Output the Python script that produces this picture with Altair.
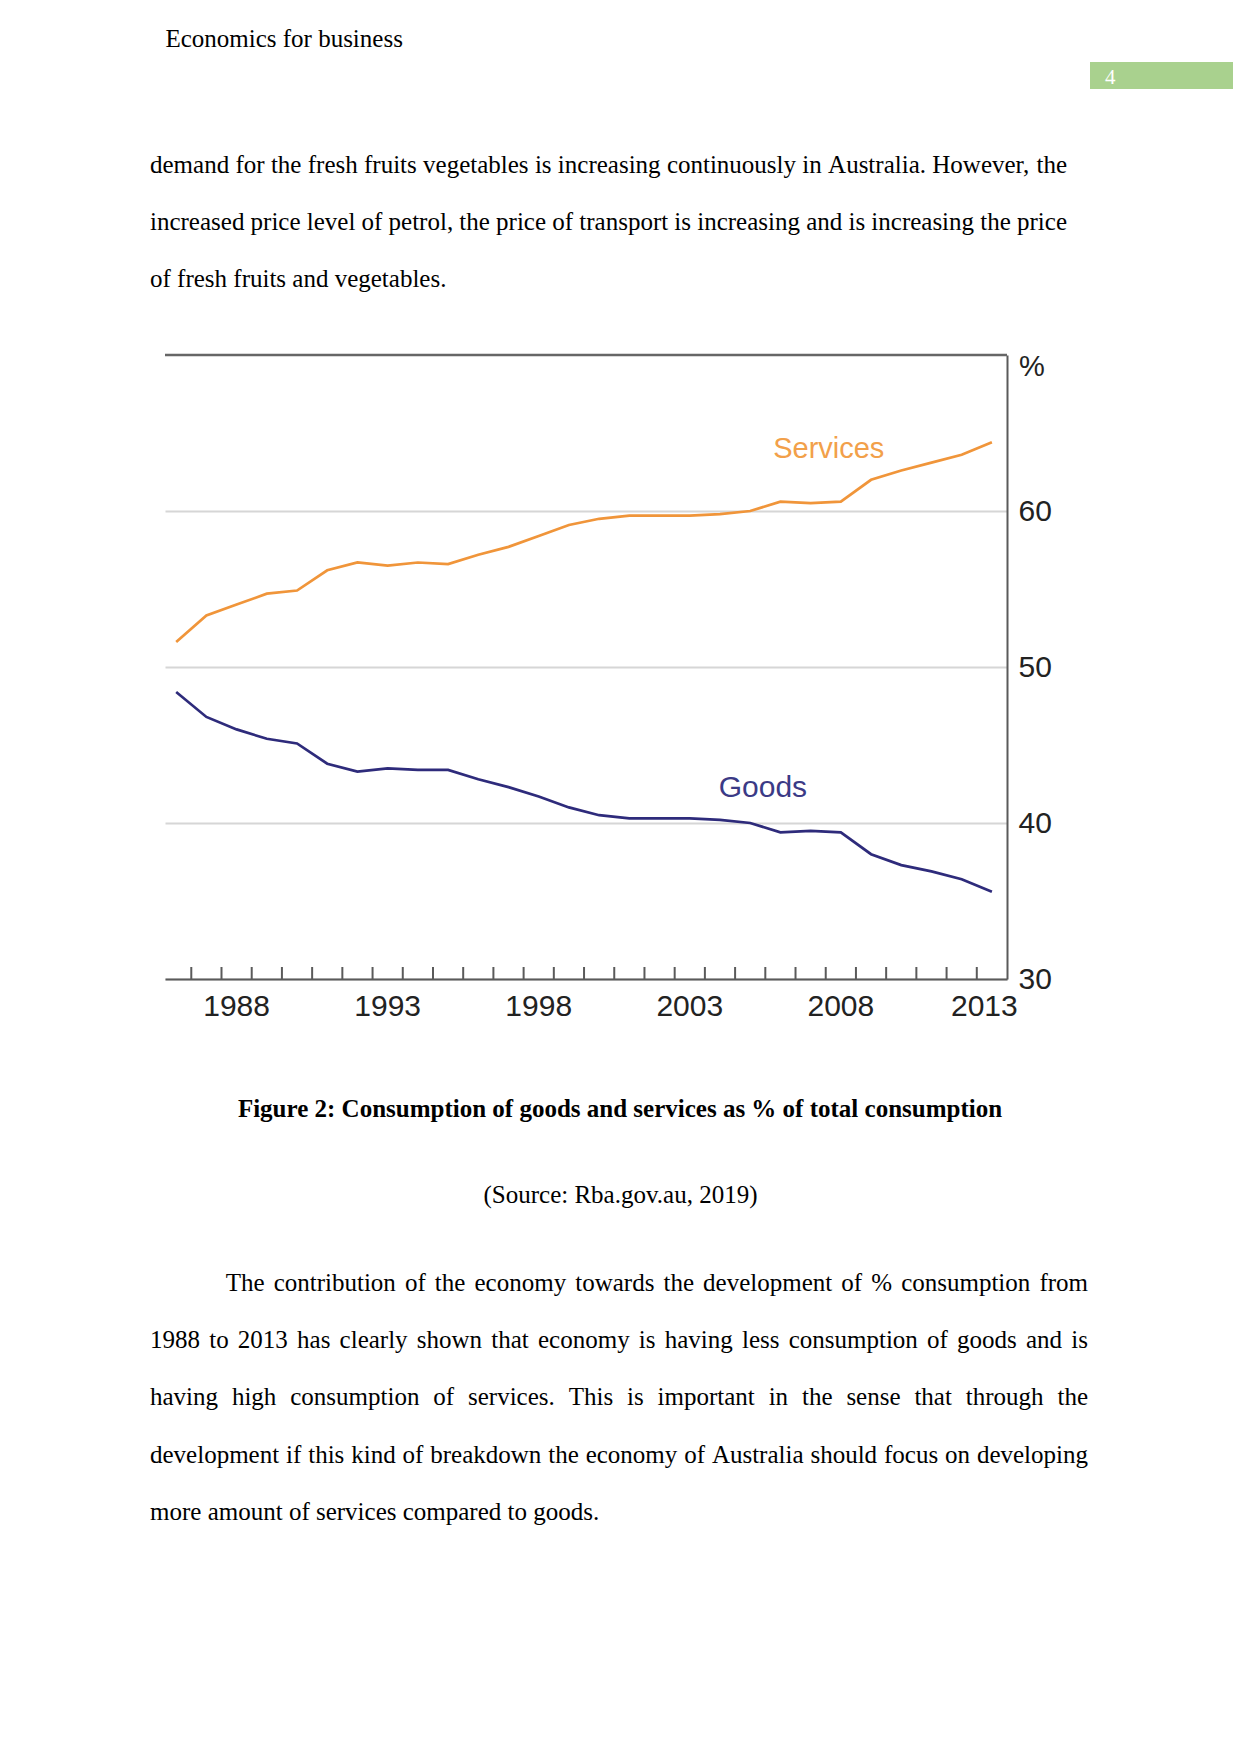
import altair as alt
import pandas as pd

# ---------------- data ----------------
years = list(range(1986, 2014))
services = [51.6, 53.3, 54.0, 54.7, 54.9, 56.2, 56.7, 56.5, 56.7, 56.6, 57.2, 57.7, 58.4, 59.1,
            59.5, 59.7, 59.7, 59.7, 59.8, 60.0, 60.6, 60.5, 60.6, 62.0, 62.6, 63.1, 63.6, 64.4]
goods = [48.4, 46.8, 46.0, 45.4, 45.1, 43.8, 43.3, 43.5, 43.4, 43.4, 42.8, 42.3, 41.7, 41.0,
         40.5, 40.3, 40.3, 40.3, 40.2, 40.0, 39.4, 39.5, 39.4, 38.0, 37.3, 36.9, 36.4, 35.6]
tick_years = list(range(1987, 2014))
label_years = [1988, 1993, 1998, 2003, 2008, 2013]
y_ticks = [30, 40, 50, 60]

header_text = "Economics for business"
page_number = "4"
para1 = [
    "demand for the fresh fruits vegetables is increasing continuously in Australia. However, the",
    "increased price level of petrol, the price of transport is increasing and is increasing the price",
    "of fresh fruits and vegetables.",
]
caption = "Figure 2: Consumption of goods and services as % of total consumption"
source = "(Source: Rba.gov.au, 2019)"
para2 = [
    "The contribution of the economy towards the development of % consumption from",
    "1988 to 2013 has clearly shown that economy is having less consumption of goods and is",
    "having high consumption of services. This is important in the sense that through the",
    "development if this kind of breakdown the economy of Australia should focus on developing",
    "more amount of services compared to goods.",
]

# ---------------- layout constants (page pixels) ----------------
PLOT_X, PLOT_Y = 165, 355
W, H = 842, 624
FS = 25
SVG_W, SVG_H = 1225, 1690

TIMES = {
    " ": 250, "!": 333, "%": 833, "(": 333, ")": 333, ",": 250, "-": 333, ".": 250, ":": 278,
    "0": 500, "1": 500, "2": 500, "3": 500, "4": 500, "5": 500, "6": 500, "7": 500, "8": 500, "9": 500,
    "A": 722, "B": 667, "C": 667, "D": 722, "E": 611, "F": 556, "G": 722, "H": 722, "I": 333,
    "J": 389, "K": 722, "L": 611, "M": 889, "N": 722, "O": 722, "P": 556, "Q": 722, "R": 667,
    "S": 556, "T": 611, "U": 722, "V": 722, "W": 944, "X": 722, "Y": 722, "Z": 611,
    "a": 444, "b": 500, "c": 444, "d": 500, "e": 444, "f": 333, "g": 500, "h": 500, "i": 278,
    "j": 278, "k": 500, "l": 278, "m": 778, "n": 500, "o": 500, "p": 500, "q": 500, "r": 333,
    "s": 389, "t": 278, "u": 500, "v": 500, "w": 722, "x": 500, "y": 500, "z": 444,
}


def tw(s, size):
    return sum(TIMES.get(c, 500) for c in s) / 1000.0 * size


def layout(lines, x_first, x_rest, right, base0, step, size):
    rows = []
    for i, line in enumerate(lines):
        words = line.split(" ")
        x0 = x_first if i == 0 else x_rest
        ww = [tw(w, size) for w in words]
        if i == len(lines) - 1 or len(words) < 2:
            gap = tw(" ", size)
        else:
            gap = (right - x0 - sum(ww)) / (len(words) - 1)
        x = x0
        for w, wd in zip(words, ww):
            rows.append({"word": w, "px": x - PLOT_X, "py": base0 + i * step - PLOT_Y})
            x += wd + gap
    return rows


words_df = pd.DataFrame(
    layout(para1, 150, 150, 1067, 172.5, 57.2, FS)
    + layout(para2, 225.7, 150, 1088, 1290.7, 57.3, FS)
)

# ---------------- chart ----------------
df = pd.DataFrame({
    "year": years * 2,
    "value": services + goods,
    "series": ["Services"] * len(years) + ["Goods"] * len(years),
})

xscale = alt.Scale(domain=[1986.13, 2014.0], nice=False, zero=False)
yscale = alt.Scale(domain=[30, 70], nice=False, zero=False)

lines = alt.Chart(df).transform_calculate(mid="datum.year + 0.5").mark_line(
    strokeWidth=2.7
).encode(
    x=alt.X("mid:Q", scale=xscale,
            axis=alt.Axis(domain=True, domainColor="#5a5a5a", domainWidth=2, ticks=False,
                          labels=False, grid=False, title=None, zindex=1)),
    y=alt.Y("value:Q", scale=yscale,
            axis=alt.Axis(orient="right", values=y_ticks, grid=True, gridColor="#d6d6d6",
                          gridWidth=2, domainColor="#5a5a5a", domainWidth=2, ticks=False,
                          tickSize=0, labelPadding=11, labelFontSize=30,
                          labelFont="Liberation Sans", labelColor="#222222", title=None)),
    color=alt.Color("series:N", scale=alt.Scale(domain=["Services", "Goods"],
                                                range=["#F0953A", "#2E2B7B"]), legend=None),
    detail="series:N",
)

top_rule = alt.Chart(pd.DataFrame({"v": [70]})).mark_rule(color="#666666", strokeWidth=2.5).encode(
    y=alt.Y("v:Q", scale=yscale)
)

ticks = alt.Chart(pd.DataFrame({"year": tick_years})).mark_rule(color="#5a5a5a", strokeWidth=2).encode(
    x=alt.X("year:Q", scale=xscale),
    y=alt.value(H),
    y2=alt.value(H - 12),
)

xlabels = alt.Chart(pd.DataFrame({"year": label_years})).transform_calculate(
    pos="min(datum.year + 0.5, 2013.25)", lab="toString(datum.year)"
).mark_text(font="Liberation Sans", fontSize=30, color="#222222", baseline="middle").encode(
    x=alt.X("pos:Q", scale=xscale),
    y=alt.value(652),
    text="lab:N",
)

pct = alt.Chart(pd.DataFrame({"t": ["%"]})).mark_text(
    font="Liberation Sans", fontSize=29, color="#222222", align="left", baseline="middle"
).encode(x=alt.value(1019 - PLOT_X), y=alt.value(366.5 - PLOT_Y), text="t:N")

serv_lab = alt.Chart(pd.DataFrame({"t": ["Services"]})).mark_text(
    font="Liberation Sans", fontSize=29, color="#F2A04A", align="center", baseline="alphabetic"
).encode(x=alt.datum(2008.1, scale=xscale), y=alt.datum(63.42, scale=yscale), text="t:N")

goods_lab = alt.Chart(pd.DataFrame({"t": ["Goods"]})).mark_text(
    font="Liberation Sans", fontSize=30, color="#3B3A86", align="center", baseline="alphabetic"
).encode(x=alt.datum(2005.92, scale=xscale), y=alt.datum(41.69, scale=yscale), text="t:N")

# ---------------- page text ----------------
body = alt.Chart(words_df).mark_text(
    font="Liberation Serif", fontSize=FS, color="#000000", align="left", baseline="alphabetic"
).encode(
    x=alt.X("px:Q", scale=None, axis=None),
    y=alt.Y("py:Q", scale=None, axis=None),
    text="word:N",
)


def single_text(txt, x, y, align="left", bold=False, size=FS, color="#000000"):
    return alt.Chart(pd.DataFrame({"t": [txt]})).mark_text(
        font="Liberation Serif", fontSize=size, color=color, align=align,
        baseline="alphabetic", fontWeight="bold" if bold else "normal"
    ).encode(x=alt.value(x - PLOT_X), y=alt.value(y - PLOT_Y), text="t:N")


header = single_text(header_text, 165.4, 46.7)
cap = single_text(caption, 620, 1117.3, align="center", bold=True)
src = single_text(source, 620.5, 1203.3, align="center")

box = alt.Chart(pd.DataFrame({"t": [page_number]})).mark_rect(color="#A9D18E").encode(
    x=alt.value(1090 - PLOT_X), x2=alt.value(1240 - PLOT_X),
    y=alt.value(62 - PLOT_Y), y2=alt.value(89 - PLOT_Y),
)
pnum = single_text(page_number, 1105, 84, size=21, color="#FFFFFF")

chart = alt.layer(
    top_rule, lines, ticks, xlabels, pct, serv_lab, goods_lab,
    body, header, cap, src, box, pnum
).properties(
    width=W, height=H,
    padding={"left": PLOT_X - 8, "top": PLOT_Y - 8, "right": SVG_W - (PLOT_X - 8) - W,
             "bottom": SVG_H - (PLOT_Y - 8) - H},
    autosize=alt.AutoSizeParams(type="none"),
    background="white",
).configure_view(stroke=None)

chart.save("out.html", embed_options={"renderer": "svg", "actions": False})
